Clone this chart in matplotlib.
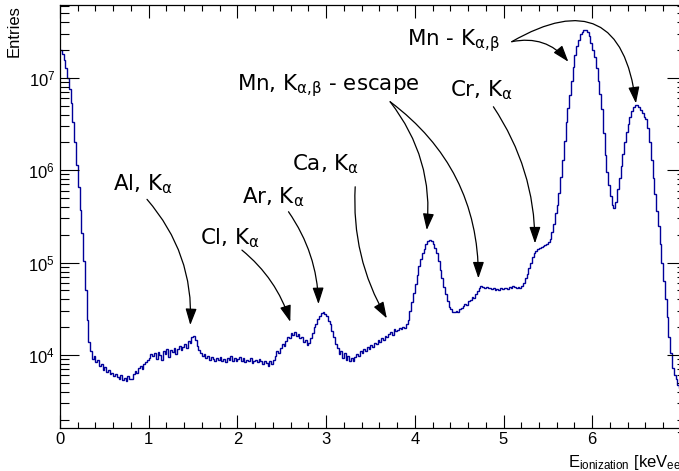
import numpy as np
import matplotlib.pyplot as plt
from matplotlib.ticker import MultipleLocator, LogLocator, LogFormatterSciNotation, NullFormatter

plt.rcParams['font.family'] = 'Liberation Sans'
plt.rcParams['mathtext.fontset'] = 'custom'
plt.rcParams['mathtext.rm'] = 'Liberation Sans'
plt.rcParams['mathtext.it'] = 'Liberation Sans:italic'

BIN_WIDTH = 0.02  # keV

# log10(entries) per bin, ten bins (0.2 keV) per row, starting at 0 keV
log_entries = [
    7.30, 7.26, 7.19, 7.10, 7.00, 6.88, 6.73, 6.52, 6.30, 6.06,
    5.82, 5.57, 5.32, 5.02, 4.70, 4.38, 4.14, 4.04, 3.96, 3.99,
    3.92, 3.95, 3.88, 3.90, 3.84, 3.87, 3.82, 3.84, 3.79, 3.81,
    3.77, 3.79, 3.76, 3.74, 3.78, 3.73, 3.75, 3.72, 3.77, 3.74,
    3.74, 3.79, 3.83, 3.80, 3.86, 3.88, 3.85, 3.90, 3.92, 3.95,
    3.97, 4.01, 3.99, 4.02, 3.96, 4.03, 4.00, 3.95, 4.04, 4.01,
    4.06, 3.98, 4.05, 4.03, 4.08, 4.01, 4.07, 4.10, 4.05, 4.09,
    4.12, 4.08, 4.15, 4.13, 4.19, 4.21, 4.16, 4.10, 4.05, 4.02,
    3.99, 4.01, 3.97, 3.99, 3.95, 3.98, 3.96, 3.93, 3.97, 3.95,
    3.98, 3.94, 3.96, 3.92, 3.97, 3.95, 3.99, 3.94, 3.97, 3.93,
    3.96, 3.98, 3.94, 3.97, 3.92, 3.95, 3.93, 3.97, 3.91, 3.94,
    3.95, 3.92, 3.96, 3.93, 3.90, 3.94, 3.91, 3.88, 3.93, 3.90,
    3.95, 3.99, 4.04, 4.02, 4.08, 4.12, 4.10, 4.15, 4.20, 4.18,
    4.24, 4.22, 4.25, 4.21, 4.23, 4.18, 4.20, 4.14, 4.16, 4.11,
    4.13, 4.18, 4.24, 4.30, 4.34, 4.39, 4.42, 4.45, 4.46, 4.44,
    4.42, 4.37, 4.33, 4.26, 4.20, 4.12, 4.08, 4.01, 4.04, 3.97,
    4.02, 3.95, 3.99, 3.93, 3.97, 3.94, 3.98, 4.01, 3.99, 4.04,
    4.02, 4.06, 4.04, 4.09, 4.07, 4.11, 4.09, 4.13, 4.12, 4.16,
    4.14, 4.18, 4.16, 4.21, 4.19, 4.23, 4.25, 4.22, 4.28, 4.26,
    4.27, 4.29, 4.28, 4.30, 4.29, 4.33, 4.38, 4.48, 4.57, 4.67,
    4.77, 4.87, 4.96, 5.04, 5.10, 5.15, 5.20, 5.23, 5.24, 5.23,
    5.20, 5.16, 5.10, 5.02, 4.92, 4.83, 4.74, 4.66, 4.58, 4.52,
    4.50, 4.47, 4.46, 4.48, 4.47, 4.50, 4.51, 4.53, 4.55, 4.54,
    4.58, 4.60, 4.63, 4.62, 4.66, 4.69, 4.72, 4.75, 4.74, 4.73,
    4.74, 4.72, 4.73, 4.71, 4.72, 4.70, 4.71, 4.70, 4.72, 4.71,
    4.72, 4.73, 4.71, 4.74, 4.73, 4.75, 4.74, 4.73, 4.74, 4.73,
    4.75, 4.78, 4.83, 4.88, 4.94, 5.00, 5.06, 5.10, 5.13, 5.15,
    5.16, 5.17, 5.18, 5.19, 5.20, 5.22, 5.26, 5.33, 5.42, 5.54,
    5.62, 5.75, 5.93, 6.11, 6.32, 6.52, 6.67, 6.81, 6.97, 7.12,
    7.25, 7.34, 7.41, 7.47, 7.50, 7.52, 7.52, 7.49, 7.45, 7.38,
    7.30, 7.22, 7.10, 6.97, 6.82, 6.66, 6.40, 6.16, 5.98, 5.84,
    5.72, 5.62, 5.59, 5.66, 5.80, 5.92, 6.05, 6.18, 6.30, 6.41,
    6.50, 6.58, 6.64, 6.68, 6.70, 6.70, 6.68, 6.65, 6.62, 6.57,
    6.55, 6.46, 6.30, 6.11, 5.92, 5.74, 5.56, 5.40, 5.20, 4.99,
    4.80, 4.61, 4.41, 4.20, 4.02, 3.86, 3.78, 3.74, 3.68, 3.64,
    3.60, 3.57, 3.54, 3.52,
]

# line labels
labels = {
    'al': r'Al, K$_{\mathrm{\alpha}}$',
    'cl': r'Cl, K$_{\mathrm{\alpha}}$',
    'ar': r'Ar, K$_{\mathrm{\alpha}}$',
    'ca': r'Ca, K$_{\mathrm{\alpha}}$',
    'esc': r'Mn, K$_{\mathrm{\alpha{,}\beta}}$ - escape',
    'cr': r'Cr, K$_{\mathrm{\alpha}}$',
    'mn': r'Mn - K$_{\mathrm{\alpha{,}\beta}}$',
}

entries = 10.0 ** np.array(log_entries)
edges = np.arange(len(entries) + 1) * BIN_WIDTH

fig = plt.figure(figsize=(6.79, 4.71), dpi=100)
# frame runs a little past the right edge of the canvas
ax = fig.add_axes([60 / 679, 43 / 471, 626 / 679, 423 / 471])

ax.stairs(entries, edges, baseline=None, color='#000099', lw=1.0)

ax.set_yscale('log')
ax.set_xlim(0, 626 / 88.7)
ax.set_ylim(10 ** 3.21, 10 ** 7.787)

ax.xaxis.set_major_locator(MultipleLocator(1))
ax.xaxis.set_minor_locator(MultipleLocator(0.2))
ax.yaxis.set_major_locator(LogLocator(base=10))
ax.yaxis.set_minor_locator(LogLocator(base=10, subs=np.arange(2, 10)))
ax.yaxis.set_major_formatter(LogFormatterSciNotation())
ax.yaxis.set_minor_formatter(NullFormatter())

ax.tick_params(which='both', direction='in', top=True, right=True,
               labelsize=12, width=0.8)
ax.tick_params(axis='x', which='major', length=9.1, pad=3)
ax.tick_params(axis='x', which='minor', length=4.6)
ax.tick_params(axis='y', which='major', length=13.5, pad=3.5)
ax.tick_params(axis='y', which='minor', length=6.8)
for s in ax.spines.values():
    s.set_linewidth(0.9)

ax.set_xlabel(r'E$_{\mathrm{ionization}}$ [keV$_{\mathrm{ee}}$]', fontsize=12, loc='right')
ax.xaxis.set_label_coords(1.0, -0.06)
ax.set_ylabel('Entries', fontsize=12, loc='top')
ax.yaxis.set_label_coords(-0.062, 1.0)

txt = dict(fontsize=15.4, family='DejaVu Sans', math_fontfamily='dejavusans')
ax.text(0.60, 10 ** 5.777, labels['al'], **txt)
ax.text(1.58, 10 ** 5.20, labels['cl'], **txt)
ax.text(2.05, 10 ** 5.641, labels['ar'], **txt)
ax.text(2.615, 10 ** 5.994, labels['ca'], **txt)
ax.text(2.00, 10 ** 6.866, labels['esc'], **txt)
ax.text(4.40, 10 ** 6.794, labels['cr'], **txt)
ax.text(3.91, 10 ** 7.354, labels['mn'], **txt)

arrow = dict(arrowstyle='-|>,head_length=0.5,head_width=0.17', mutation_scale=20,
             color='black', lw=0.9, shrinkA=0, shrinkB=0)


def point(start, tip, rad):
    ax.annotate('', xy=(tip[0], 10 ** tip[1]), xytext=(start[0], 10 ** start[1]),
                arrowprops=dict(arrow, connectionstyle=f'arc3,rad={rad}'))


point((0.981, 5.684), (1.469, 4.324), -0.2)
point((2.051, 5.135), (2.596, 4.359), -0.15)
point((2.576, 5.550), (2.914, 4.551), -0.15)
point((3.328, 5.820), (3.685, 4.396), 0.15)
point((3.722, 6.740), (4.135, 5.352), -0.2)
point((3.722, 6.740), (4.717, 4.829), -0.25)
point((4.886, 6.686), (5.355, 5.208), -0.15)
point((5.093, 7.390), (5.731, 7.173), -0.3)
point((5.093, 7.390), (6.493, 6.723), -0.75)

fig.savefig('out.png', dpi=100)
